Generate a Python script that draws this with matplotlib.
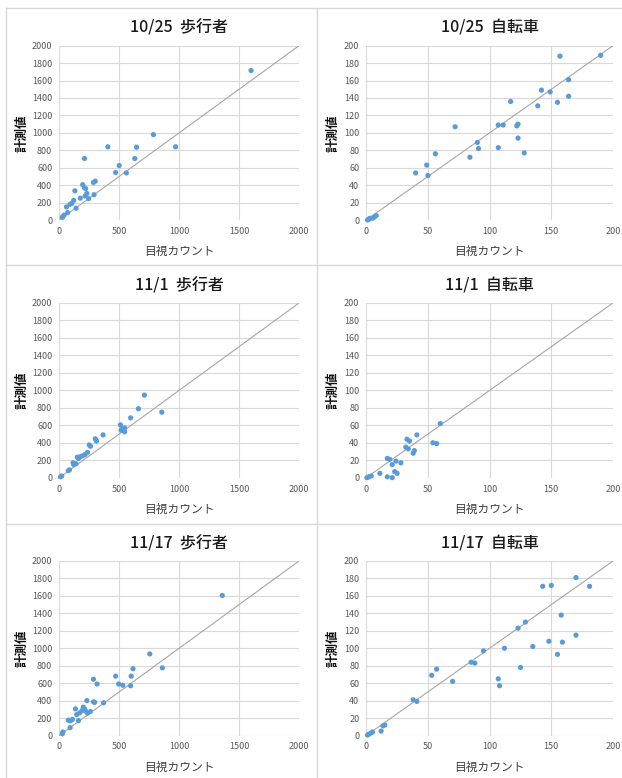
import matplotlib
matplotlib.use("Agg")
import matplotlib.pyplot as plt
from matplotlib.lines import Line2D

plt.rcParams['font.family'] = ['Noto Sans CJK JP', 'DejaVu Sans']

# 10/25
ped_1025_x = [1600, 785, 970, 405, 645, 210, 630, 500, 470, 560, 300, 285, 195, 210, 220,
              230, 130, 290, 215, 245, 175, 120, 105, 90, 60, 140, 70, 40, 25, 30]
ped_1025_y = [1715, 980, 840, 840, 835, 705, 705, 625, 545, 540, 445, 430, 405, 370, 360,
              305, 335, 290, 275, 245, 250, 225, 190, 180, 150, 135, 85, 57, 30, 40]
bike_1025_x = [190, 157, 164, 142, 149, 164, 117, 155, 139, 72, 107, 111, 122, 123, 123,
               90, 91, 107, 84, 128, 56, 49, 50, 40, 1, 2, 3, 5, 6.5, 8]
bike_1025_y = [189, 188, 161, 149, 147, 142, 136, 135, 131, 107, 109, 109, 108, 110, 94,
               89, 82, 83, 72, 77, 76, 63, 51, 54, 0, 1, 2, 2, 3.5, 5]

# 11/1
ped_1101_x = [710, 660, 855, 595, 510, 545, 515, 540, 545, 530, 365, 300, 310, 250, 260,
              235, 215, 195, 175, 150, 160, 115, 140, 120, 75, 85, 20, 10]
ped_1101_y = [945, 790, 750, 685, 605, 570, 545, 540, 525, 560, 490, 445, 420, 375, 360,
              290, 265, 250, 240, 235, 220, 170, 160, 150, 80, 90, 20, 10]
bike_1101_x = [60, 41, 33, 35, 54, 57, 32, 34, 39, 38, 17, 19, 24, 28, 21,
               23, 25, 11, 17, 21, 4, 2, 0.5]
bike_1101_y = [62, 49, 44, 42, 40, 39, 35, 33, 31, 28, 22, 21, 19, 17, 15,
               7, 5, 5, 1, 0, 2, 1, 0]

# 11/17
ped_1117_x = [1360, 755, 860, 615, 285, 470, 600, 315, 495, 530, 595, 230, 285, 295, 370,
              135, 200, 210, 190, 220, 260, 235, 170, 145, 160, 75, 110, 95, 90, 30, 25]
ped_1117_y = [1605, 935, 775, 765, 645, 680, 680, 590, 590, 575, 570, 400, 385, 380, 375,
              305, 325, 305, 285, 280, 275, 255, 260, 240, 170, 175, 185, 170, 90, 40, 20]
bike_1117_x = [170, 143, 150, 181, 158, 129, 123, 170, 148, 159, 135, 112, 95, 155, 85,
               88, 125, 57, 53, 70, 107, 108, 38, 41, 15, 13.5, 12, 5, 4, 2, 1]
bike_1117_y = [181, 171, 172, 171, 138, 130, 123, 115, 108, 107, 102, 100, 97, 93, 84,
               83, 78, 76, 69, 62, 65, 57, 41, 39, 12, 11, 5, 4, 3, 1.5, 0.5]

titles = ["10/25  歩行者", "10/25  自転車", "11/1  歩行者", "11/1  自転車",
          "11/17  歩行者", "11/17  自転車"]
series = [(ped_1025_x, ped_1025_y), (bike_1025_x, bike_1025_y),
          (ped_1101_x, ped_1101_y), (bike_1101_x, bike_1101_y),
          (ped_1117_x, ped_1117_y), (bike_1117_x, bike_1117_y)]
limits = [2000, 200, 2000, 200, 2000, 200]

W, H = 622, 778
fig = plt.figure(figsize=(W / 100, H / 100), dpi=100)

# plot areas in pixels: left, top, right, bottom
col_x = [(59.3, 299.0), (366.3, 613.0)]
row_y = [(45.7, 220.0), (303.0, 477.7), (561.0, 735.5)]
row_title = [28, 286, 544]
row_xlabel = [251, 509, 767]

blue = "#5b9bd5"

for i in range(6):
    r, c = divmod(i, 2)
    x0, x1 = col_x[c]
    y0, y1 = row_y[r]
    ax = fig.add_axes([x0 / W, 1 - y1 / H, (x1 - x0) / W, (y1 - y0) / H])
    lim = limits[i]
    xs, ys = series[i]

    ax.plot([0, lim], [0, lim], color="#a6a6a6", lw=0.8, zorder=2)
    ax.scatter(xs, ys, s=14, color=blue, edgecolors="none", zorder=3, clip_on=False)

    ax.set_xlim(0, lim)
    ax.set_ylim(0, lim)
    ax.set_xticks(range(0, lim + 1, lim // 4))
    ax.set_yticks(range(0, lim + 1, lim // 10))
    ax.grid(True, color="#d9d9d9", lw=0.8)
    ax.set_axisbelow(True)
    for s in ax.spines.values():
        s.set_visible(False)
    ax.tick_params(length=0, labelsize=6.5, labelcolor="#595959", pad=5)

    cx = (x0 + x1) / 2 / W
    fig.text(cx, 1 - row_title[r] / H, titles[i], ha="center", va="center",
             fontsize=11.5, fontweight="medium", color="#1a1a1a")
    fig.text(cx, 1 - row_xlabel[r] / H, "目視カウント", ha="center", va="center",
             fontsize=8.5, color="#404040")
    fig.text((c * 311 + 22) / W, 1 - (y0 + y1) / 2 / H, "計測値", ha="center",
             va="center", rotation=90, fontsize=9, fontweight="bold", color="#111111")

# panel borders
border = "#d9d9d9"
fig.add_artist(Line2D([6 / W, 1], [1 - 8 / H, 1 - 8 / H], color=border, lw=1))
fig.add_artist(Line2D([6 / W, 6 / W], [0, 1 - 8 / H], color=border, lw=1))
fig.add_artist(Line2D([317 / W, 317 / W], [0, 1 - 8 / H], color=border, lw=1))
for yb in [265, 523.5]:
    fig.add_artist(Line2D([6 / W, 1], [1 - yb / H, 1 - yb / H], color=border, lw=1))

fig.savefig("out.png", dpi=100)
